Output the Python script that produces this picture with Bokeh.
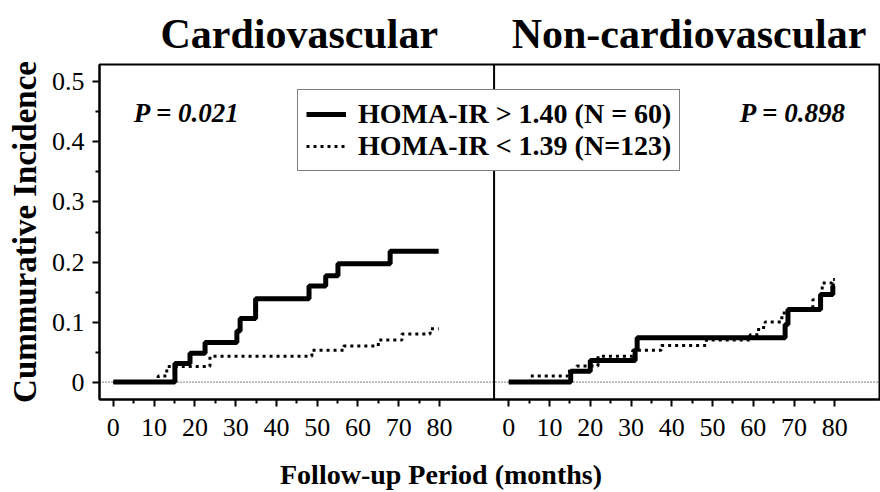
from bokeh.plotting import figure
from bokeh.models import FixedTicker, Span, Label, Legend, LegendItem, Range1d, Title
from bokeh.embed import file_html
from bokeh.resources import INLINE

# ---------------- data ----------------
major_months = [0, 10, 20, 30, 40, 50, 60, 70, 80]
minor_months = [5, 15, 25, 35, 45, 55, 65, 75]
y_ticks = [0, 0.1, 0.2, 0.3, 0.4, 0.5]
y_tick_labels = ["0", "0.1", "0.2", "0.3", "0.4", "0.5"]
y_minor = [0.05, 0.15, 0.25, 0.35, 0.45]

panel_titles = ["Cardiovascular", "Non-cardiovascular"]
p_texts = ["P = 0.021", "P = 0.898"]
legend_labels = ["HOMA-IR > 1.40 (N = 60)", "HOMA-IR < 1.39 (N=123)"]
x_title = "Follow-up Period (months)"
y_title = "Cummurative Incidence"

# Cardiovascular, HOMA-IR > 1.40
cv_high_t = [0, 15.1, 18.8, 22.5, 30.3, 31.1, 34.9, 48.0, 52.1, 55.1, 67.9, 79.8]
cv_high_y = [0, 0.031, 0.048, 0.066, 0.085, 0.106, 0.139, 0.160, 0.177, 0.197, 0.218, 0.218]
# Cardiovascular, HOMA-IR < 1.39
cv_low_t = [0, 11.0, 13.1, 23.7, 48.7, 56.5, 65.0, 70.8, 77.7, 79.8]
cv_low_y = [0, 0.010, 0.026, 0.043, 0.053, 0.060, 0.070, 0.080, 0.089, 0.089]
# Non-cardiovascular, HOMA-IR > 1.40
ncv_high_t = [0, 15.2, 20.0, 31.0, 31.5, 67.8, 68.5, 76.5, 79.5, 80.0]
ncv_high_y = [0, 0.018, 0.036, 0.054, 0.074, 0.096, 0.121, 0.146, 0.160, 0.160]
# Non-cardiovascular, HOMA-IR < 1.39
ncv_low_t = [0, 5.3, 14.4, 16.7, 21.9, 30.4, 37.4, 48.5, 59.2, 61.3, 62.9, 67.0, 68.5, 74.6, 76.9, 79.3, 80.0]
ncv_low_y = [0, 0.010, 0.018, 0.027, 0.043, 0.053, 0.061, 0.070, 0.079, 0.091, 0.100, 0.115, 0.121, 0.137, 0.165, 0.171, 0.171]

# ---------------- layout constants ----------------
RIGHT_OFFSET = 97.0   # right panel drawn shifted on the shared x scale
DIVIDER = 93.4
X_START, X_END = -3.4, 188.2
Y_START, Y_END = -0.029, 0.529
SERIF = "Liberation Serif"
NBSP = "\u00a0"


def shift(ts):
    return [t + RIGHT_OFFSET for t in ts]


p = figure(width=880, height=492, x_range=Range1d(X_START, X_END),
           y_range=Range1d(Y_START, Y_END), output_backend="svg",
           toolbar_location=None, min_border_left=99, min_border_right=0,
           min_border_top=64, min_border_bottom=92)
p.grid.visible = False
p.outline_line_color = "black"
p.outline_line_width = 2
p.background_fill_color = "white"
p.border_fill_color = "white"

# x axis
x_major = major_months + shift(major_months)
x_minor = minor_months + shift(minor_months)
p.xaxis.ticker = FixedTicker(ticks=x_major, minor_ticks=x_minor)
overrides = {}
for m in major_months:
    overrides[m] = str(m)
    overrides[m + RIGHT_OFFSET] = str(m)
p.xaxis.major_label_overrides = overrides
# x title: padded on the right so that it sits left of the frame centre
p.xaxis.axis_label = x_title + NBSP * 14
# y axis
p.yaxis.ticker = FixedTicker(ticks=y_ticks, minor_ticks=y_minor)
p.yaxis.major_label_overrides = dict(zip(y_ticks, y_tick_labels))
p.yaxis.axis_label = y_title

for ax in (p.xaxis[0], p.yaxis[0]):
    ax.axis_line_width = 2
    ax.axis_line_color = "black"
    ax.major_tick_in = 0
    ax.major_tick_out = 7
    ax.minor_tick_in = 0
    ax.minor_tick_out = 4
    ax.major_tick_line_width = 2
    ax.minor_tick_line_width = 2
    ax.major_tick_line_color = "black"
    ax.minor_tick_line_color = "black"
    ax.major_label_text_font = SERIF
    ax.major_label_text_font_size = "26px"
    ax.major_label_text_color = "black"
    ax.axis_label_text_font = SERIF
    ax.axis_label_text_font_style = "bold"
    ax.axis_label_text_color = "black"

p.xaxis.major_label_standoff = 12
p.xaxis.axis_label_text_font_size = "28px"
p.xaxis.axis_label_standoff = 20
p.yaxis.major_label_standoff = 8
p.yaxis.axis_label_text_font_size = "33px"
p.yaxis.axis_label_standoff = 6

# divider & zero line
p.add_layout(Span(location=DIVIDER, dimension="height", line_color="black",
                  line_width=2, level="underlay"))
p.add_layout(Span(location=0, dimension="width", line_color="black",
                  line_width=1, line_dash="1 2", level="underlay"))

# curves
r_hi = p.step(cv_high_t, cv_high_y, mode="after", line_width=5, line_color="black")
r_lo = p.step(cv_low_t, cv_low_y, mode="after", line_width=3, line_color="black",
              line_dash="3 4")
p.step(shift(ncv_high_t), ncv_high_y, mode="after", line_width=5, line_color="black")
p.step(shift(ncv_low_t), ncv_low_y, mode="after", line_width=3, line_color="black",
       line_dash="3 4")

# panel titles (one title row; the two names separated by non-breaking spaces)
p.add_layout(Title(text=panel_titles[0] + NBSP * 7 + panel_titles[1],
                   align="left", vertical_align="top", offset=61, standoff=12,
                   text_font=SERIF, text_font_style="bold",
                   text_font_size="42px", text_color="black"), "above")

# p values
p_x = [18.0, 69.7 + RIGHT_OFFSET]
for px, pt in zip(p_x, p_texts):
    p.add_layout(Label(x=px, y=0.448, text=pt, text_align="center",
                       text_baseline="middle", text_font=SERIF,
                       text_font_style="bold italic", text_font_size="27px",
                       text_color="black"))

legend = Legend(items=[LegendItem(label=legend_labels[0], renderers=[r_hi]),
                       LegendItem(label=legend_labels[1], renderers=[r_lo])],
                location=(198, 228), margin=0, padding=8, spacing=-5,
                glyph_width=40, glyph_height=30, label_height=30,
                label_standoff=12, label_text_font=SERIF,
                label_text_font_style="bold", label_text_font_size="28px",
                label_text_color="black", border_line_color="black",
                border_line_width=1.5, background_fill_color="white",
                background_fill_alpha=1.0)
p.add_layout(legend)

open("out.html", "w").write(file_html(p, INLINE))
